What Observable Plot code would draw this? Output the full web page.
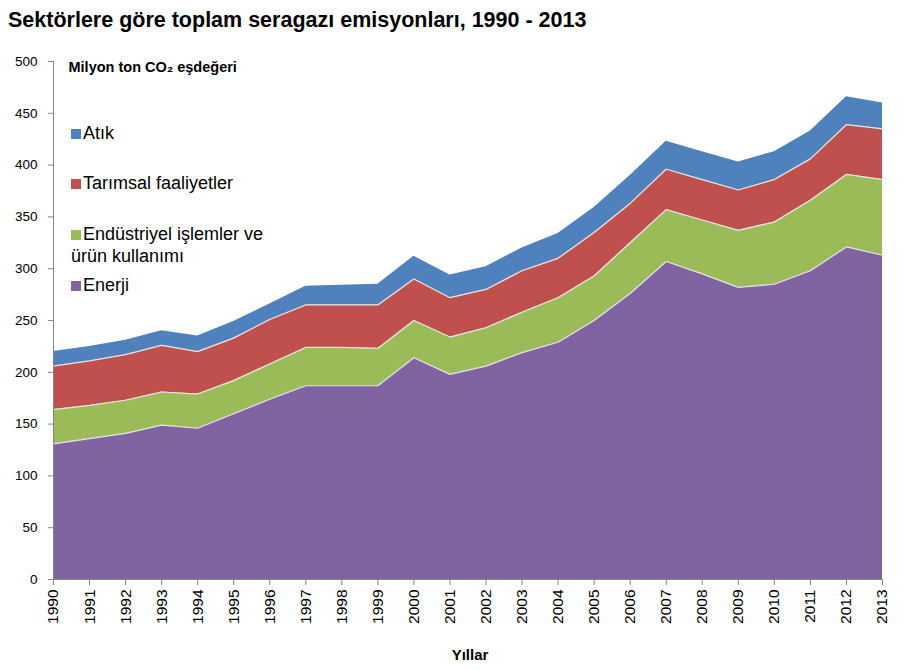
<!DOCTYPE html>
<html>
<head>
<meta charset="utf-8">
<script src="https://cdn.jsdelivr.net/npm/d3@7"></script>
<script src="https://cdn.jsdelivr.net/npm/@observablehq/plot@0.6"></script>
<style>
  html, body { margin: 0; padding: 0; background: #fff; }
  #wrap { position: relative; width: 911px; height: 670px; font-family: "Liberation Sans", Arial, sans-serif; }
  #title { position: absolute; left: 8px; top: 8px; font-weight: bold; font-size: 21.5px; color: #000; white-space: nowrap; }
  #chart { position: absolute; left: 0; top: 40px; }
  #legend { position: absolute; left: 71px; top: 0; font-size: 18px; color: #000; }
  .lg { position: absolute; white-space: nowrap; line-height: 22px; }
  .sw { display: inline-block; width: 10px; height: 10px; margin-right: 2px; vertical-align: 0px; }
</style>
</head>
<body>
<div id="wrap">
  <div id="title">Sektörlere göre toplam seragazı emisyonları, 1990 - 2013</div>
  <div id="chart"></div>
  <div id="legend"></div>
</div>
<script>
const years = [1990,1991,1992,1993,1994,1995,1996,1997,1998,1999,2000,2001,2002,2003,2004,2005,2006,2007,2008,2009,2010,2011,2012,2013];
const sectors = ["Enerji", "Endüstriyel işlemler ve ürün kullanımı", "Tarımsal faaliyetler", "Atık"];
const colors = ["#8064A2", "#9BBB59", "#C0504D", "#4F81BD"];
const enerji     = [131,136,141,149,146,160,174,187,187,187,214,198,206,219,229,250,276,307,295,282,285,298,321,313];
const endustriyel= [ 33, 32, 32, 32, 33, 32, 34, 37, 37, 36, 36, 36, 37, 39, 43, 43, 49, 50, 52, 55, 60, 68, 70, 73];
const tarimsal   = [ 42, 43, 44, 45, 41, 41, 43, 41, 41, 42, 40, 38, 37, 40, 38, 42, 38, 39, 39, 39, 41, 40, 48, 49];
const atik       = [ 14, 14, 14, 14, 15, 16, 15, 18, 19, 20, 22, 22, 22, 22, 24, 24, 27, 27, 27, 27, 27, 27, 27, 25];
const yTicks = [0,50,100,150,200,250,300,350,400,450,500];
const yLabel = "Milyon ton CO₂ eşdeğeri";
const xLabel = "Yıllar";
const legendItems = ["Atık", "Tarımsal  faaliyetler", "Endüstriyel işlemler ve\nürün kullanımı", "Enerji"];
const legendColors = ["#4F81BD", "#C0504D", "#9BBB59", "#8064A2"];

const series = [enerji, endustriyel, tarimsal, atik];
const data = [];
sectors.forEach((s, i) => years.forEach((y, j) => data.push({year: y, sector: s, value: series[i][j]})));

const chart = Plot.plot({
  width: 911,
  height: 630,
  marginTop: 21,
  marginBottom: 91,
  marginLeft: 53,
  marginRight: 29,
  style: { fontFamily: "'Liberation Sans', Arial, sans-serif", fontSize: "13px", color: "#000", background: "#fff", overflow: "visible" },
  x: { domain: [1990, 2013] },
  y: { domain: [0, 500] },
  color: { domain: sectors, range: colors },
  marks: [
    Plot.areaY(data, { x: "year", y: "value", fill: "sector", order: sectors }),
    Plot.lineY(data.filter(d => d.sector !== "Atık"), Plot.stackY2({ x: "year", y: "value", z: "sector", order: sectors, stroke: "#e4e4e4", strokeWidth: 1.2 })),
    Plot.ruleX([1990], { stroke: "#868686" }),
    Plot.ruleY([0], { stroke: "#868686" }),
    Plot.axisY({ ticks: yTicks, tickSize: 5, stroke: "#868686", tickPadding: 11, label: null, fontSize: 13.5 }),
    Plot.axisX({ ticks: years, tickSize: 6, stroke: "#868686", tickRotate: -90, tickFormat: d => String(d), tickPadding: 4, label: null, fontSize: 15.5 }),
    Plot.text([yLabel], { frameAnchor: "top-left", dx: 15, dy: 0, fontWeight: "bold", fontSize: 14.5, textAnchor: "start" }),
    Plot.text([xLabel], { frameAnchor: "bottom", dy: 80, dx: 2, fontWeight: "bold", fontSize: 15 })
  ]
});
document.getElementById("chart").appendChild(chart);

const legend = document.getElementById("legend");
const tops = [122, 172, 223, 274];
legendItems.forEach((t, i) => {
  const div = document.createElement("div");
  div.className = "lg";
  div.style.top = tops[i] + "px";
  const lines = t.split("\n");
  const sw = document.createElement("span");
  sw.className = "sw";
  sw.style.background = legendColors[i];
  div.appendChild(sw);
  div.appendChild(document.createTextNode(lines[0]));
  for (let k = 1; k < lines.length; k++) {
    div.appendChild(document.createElement("br"));
    div.appendChild(document.createTextNode(lines[k]));
  }
  legend.appendChild(div);
});
</script>
</body>
</html>
